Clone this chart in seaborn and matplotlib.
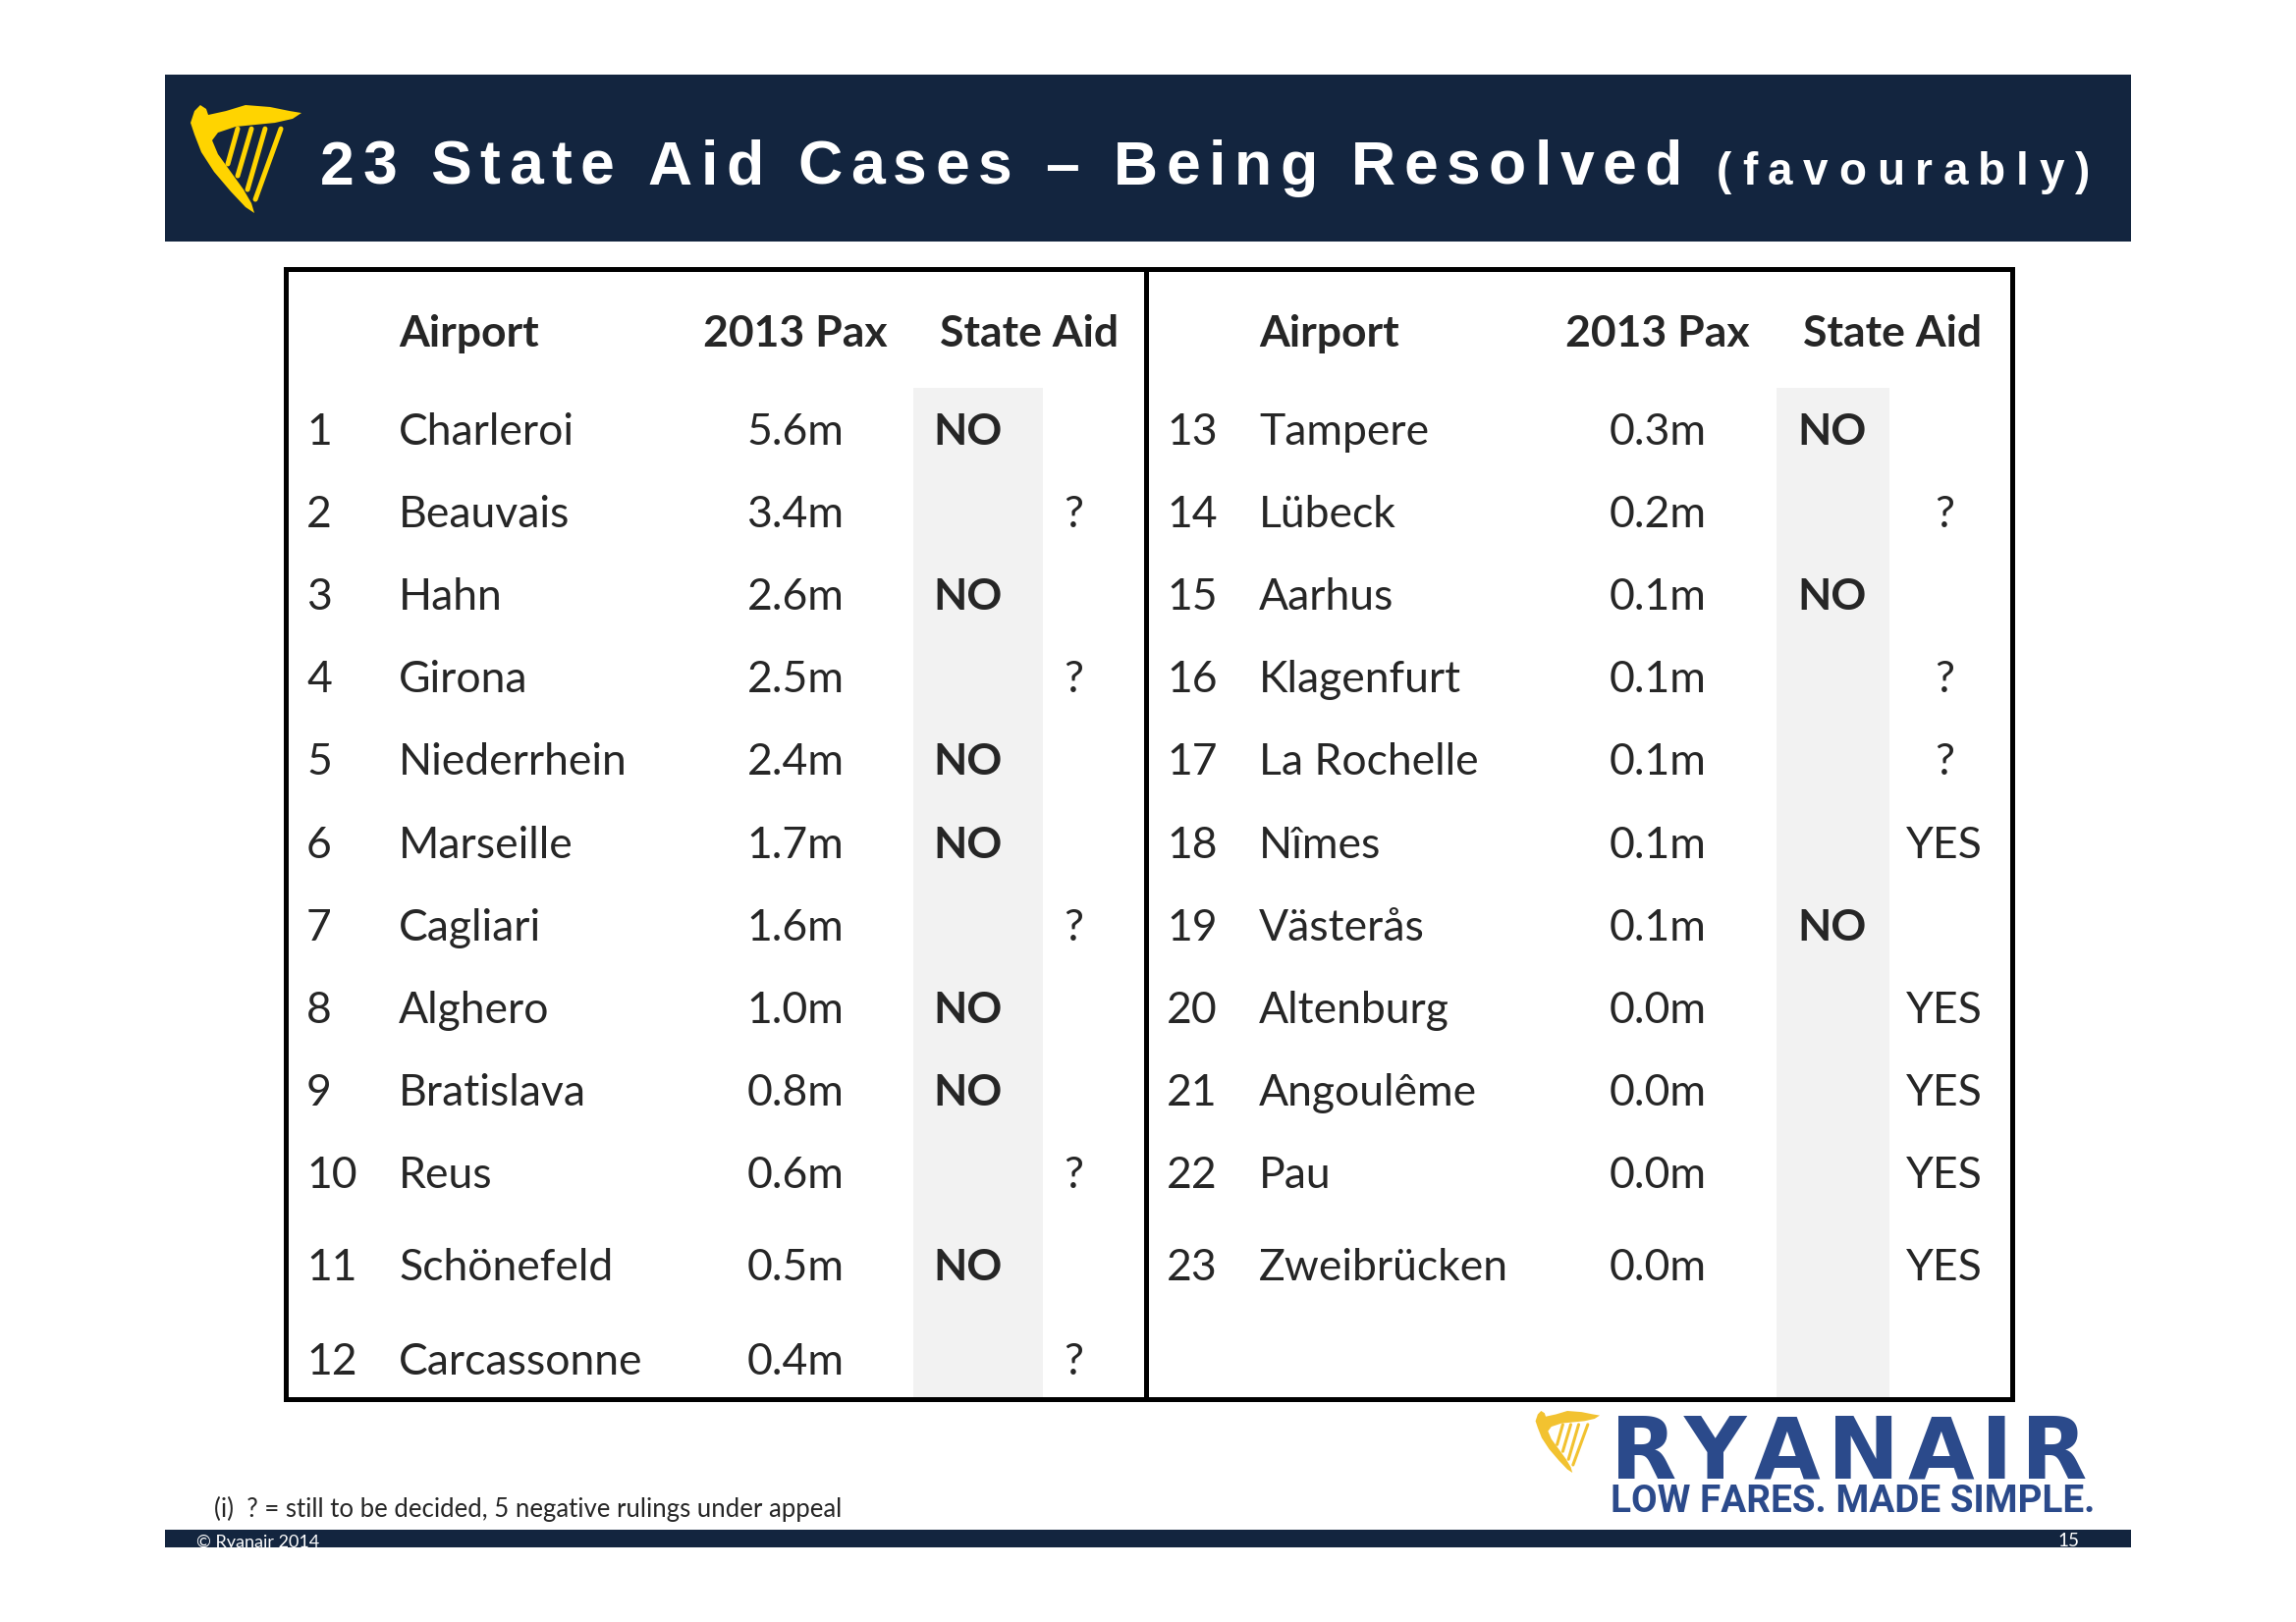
import numpy as np
import pandas as pd
import seaborn as sns
import matplotlib.pyplot as plt
from matplotlib.patches import Rectangle, Polygon

# table content
airports = ['Charleroi', 'Beauvais', 'Hahn', 'Girona', 'Niederrhein', 'Marseille',
            'Cagliari', 'Alghero', 'Bratislava', 'Reus', 'Schönefeld', 'Carcassonne',
            'Tampere', 'Lübeck', 'Aarhus', 'Klagenfurt', 'La Rochelle', 'Nîmes',
            'Västerås', 'Altenburg', 'Angoulême', 'Pau', 'Zweibrücken']
pax_2013 = [5.6, 3.4, 2.6, 2.5, 2.4, 1.7, 1.6, 1.0, 0.8, 0.6, 0.5, 0.4,
            0.3, 0.2, 0.1, 0.1, 0.1, 0.1, 0.1, 0.0, 0.0, 0.0, 0.0]
state_aid = ['NO', '?', 'NO', '?', 'NO', 'NO', '?', 'NO', 'NO', '?', 'NO', '?',
             'NO', '?', 'NO', '?', '?', 'YES', 'NO', 'YES', 'YES', 'YES', 'YES']
headers = ['Airport', '2013 Pax', 'State Aid']
title_main = '23 State Aid Cases – Being Resolved'
title_sub = '(favourably)'
footnote = '(i)  ? = still to be decided, 5 negative rulings under appeal'

NAVY = '#13253F'
BLUE = '#2B4A8B'
GREY = '#F2F2F2'

df = pd.DataFrame({'airport': airports, 'pax': pax_2013, 'aid': state_aid})
df['rank'] = np.arange(1, len(df) + 1)
df['side'] = (df['rank'] > 12).astype(int)
df['row'] = np.where(df['side'] == 0, df['rank'] - 1, df['rank'] - 13)

sns.set_theme(style='white')
plt.rcParams['font.family'] = ['Lato', 'DejaVu Sans']

fig = plt.figure(figsize=(23.38, 16.52), dpi=100)
ax = fig.add_axes([0, 0, 1, 1])
ax.set_xlim(0, 2338)
ax.set_ylim(1652, 0)
ax.axis('off')
renderer = fig.canvas.get_renderer()


def tracked(s, x0, x1, y, **kw):
    # spread characters over [x0, x1] (letter-spaced text)
    fs_px = kw['fontsize'] * fig.dpi / 72
    widths = []
    for ch in s:
        if ch == ' ':
            widths.append(0.28 * fs_px)
        else:
            t = ax.text(0, 0, ch, **kw)
            widths.append(t.get_window_extent(renderer=renderer).width)
            t.remove()
    track = (x1 - x0 - sum(widths)) / (len(s) - 1)
    x = x0
    for ch, w in zip(s, widths):
        if ch != ' ':
            ax.text(x, y, ch, ha='left', va='baseline', **kw)
        x += w + track


def fitted(s, x0, x1, y, fontsize, **kw):
    # one string, font size scaled so it spans [x0, x1]
    t = ax.text(x0, y, s, fontsize=fontsize, va='baseline', **kw)
    w = t.get_window_extent(renderer=renderer).width
    t.set_fontsize(fontsize * (x1 - x0) / w)
    return t


HARP_BODY = [(0.044, 0.055), (0.096, 0.0), (0.149, 0.036), (0.167, 0.091),
             (0.325, 0.055), (0.5, 0.0), (0.719, 0.018), (0.895, 0.055),
             (1.0, 0.073), (0.921, 0.127), (0.763, 0.164), (0.588, 0.182),
             (0.412, 0.2), (0.254, 0.255), (0.202, 0.327), (0.254, 0.455),
             (0.368, 0.618), (0.482, 0.782), (0.553, 0.909), (0.579, 1.0),
             (0.5, 0.945), (0.368, 0.8), (0.219, 0.618), (0.105, 0.436),
             (0.044, 0.273), (0.009, 0.164)]
HARP_STRINGS = [((0.43, 0.22), (0.342, 0.545)), ((0.553, 0.22), (0.43, 0.655)),
                ((0.675, 0.22), (0.518, 0.782)), ((0.816, 0.22), (0.588, 0.873))]


def harp(x0, y0, w, h, color, lw):
    ax.add_patch(Polygon([(x0 + a * w, y0 + b * h) for a, b in HARP_BODY],
                         closed=True, color=color, lw=0))
    for (a0, b0), (a1, b1) in HARP_STRINGS:
        ax.plot([x0 + a0 * w, x0 + a1 * w], [y0 + b0 * h, y0 + b1 * h],
                color=color, lw=lw, solid_capstyle='round')


# header band
ax.add_patch(Rectangle((168, 76), 2002, 170, color=NAVY, lw=0))
harp(193, 107, 114, 110, '#FFD400', 3.6)
tracked(title_main, 326, 1713, 188, fontsize=45, fontweight='bold',
        family='Liberation Sans', color='white')
tracked(title_sub, 1748, 2128, 188, fontsize=33, fontweight='bold',
        family='Liberation Sans', color='white')

# table layout per side
sides = [
    dict(num=312, air=406, pax=810, no=950, q=1093, st=1048, g0=930, g1=1062),
    dict(num=1188, air=1282, pax=1688, no=1830, q=1980, st=1927, g0=1809, g1=1924),
]
box_top, box_bot = 274, 1425
row0, row_h = 437, 84.1
extra = [0] * 10 + [10, 22]
fs = 32

for c in sides:
    ax.add_patch(Rectangle((c['g0'], 395), c['g1'] - c['g0'], box_bot - 395,
                           color=GREY, lw=0))
    ax.text(c['air'], 353, headers[0], fontsize=fs, fontweight='bold', va='baseline')
    ax.text(c['pax'], 353, headers[1], fontsize=fs, fontweight='bold', va='baseline',
            ha='center')
    ax.text(c['st'], 353, headers[2], fontsize=fs, fontweight='bold', va='baseline',
            ha='center')

for _, r in df.iterrows():
    c = sides[r['side']]
    y = row0 + row_h * r['row'] + extra[r['row']] + 16
    ax.text(c['num'], y, str(r['rank']), fontsize=fs, va='baseline')
    ax.text(c['air'], y, r['airport'], fontsize=fs, va='baseline')
    ax.text(c['pax'], y, f"{r['pax']:.1f}m", fontsize=fs, va='baseline', ha='center')
    if r['aid'] == 'NO':
        ax.text(c['no'], y, 'NO', fontsize=fs, fontweight='bold', va='baseline')
    else:
        ax.text(c['q'], y, r['aid'], fontsize=fs, va='baseline', ha='center')

ax.add_patch(Rectangle((291, box_top), 2049 - 291, box_bot - box_top,
                       fill=False, ec='black', lw=3.6))
ax.plot([1167, 1167], [box_top, box_bot], color='black', lw=3.6)

# footnote and logo
ax.text(218, 1545, footnote, fontsize=18.5, va='baseline')
harp(1563, 1437, 66, 63, '#F2C230', 2.2)
tracked('RYANAIR', 1640, 2125, 1506, fontsize=63, fontweight='bold',
        family='DejaVu Sans', color=BLUE)
fitted('LOW FARES. MADE SIMPLE.', 1640, 2132, 1540, 26, fontweight='bold',
       family='Roboto', color=BLUE)

# footer bar
bar = Rectangle((168, 1558), 2002, 18, color=NAVY, lw=0)
ax.add_patch(bar)
t = ax.text(200, 1576, '© Ryanair 2014', fontsize=13, color='white', va='baseline')
t.set_clip_path(bar)
t = ax.text(2117, 1575, '15', fontsize=13.5, color='white', va='baseline', ha='right')
t.set_clip_path(bar)

fig.savefig('out.png', dpi=100)
